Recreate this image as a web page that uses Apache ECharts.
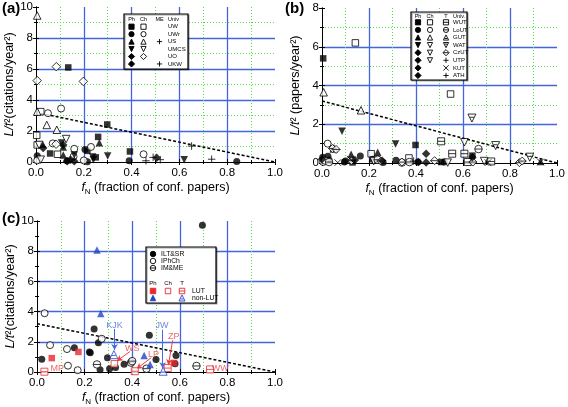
<!DOCTYPE html>
<html><head><meta charset="utf-8">
<script src="https://cdn.jsdelivr.net/npm/echarts@6/dist/echarts.min.js"></script>
<style>html,body{margin:0;padding:0;background:#fff}#c{width:568px;height:407px}</style>
</head><body><div id="c"></div>
<script>
// ---------- data : panel (a) ----------
const xTicks = [0, 0.2, 0.4, 0.6, 0.8, 1.0];
const trendLine = [[0, 3.2], [1.0, 0]];
const aFilledSquare = [[0.135,6.1],[0.298,2.42],[0.26,1.62],[0.059,0.55],[0.215,0.72],[0.25,0.3],[0.393,0.68]];
const aOpenSquare = [[0.02,3.25],[0.003,1.72],[0.09,0.5],[0.005,1.1]];
const aFilledCircle = [[0.005,0.4],[0.13,0.08],[0.215,0.02],[0.39,0.08],[0.84,0.03],[0.205,0.8]];
const aOpenCircle = [[0.105,3.45],[0.05,3.15],[0.16,0.85],[0.23,0.97],[0.45,0.5],[0.005,0.1],[0.2,0.1],[0.157,0.35],[0.07,1.2]];
const aFilledTri = [[0.265,1.25],[0.114,0.97],[0.028,1.15],[0.114,0.45]];
const aOpenTri = [[0.005,9.45],[0.005,3.25],[0.045,2.39],[0.087,2.08]];
const aFilledDown = [[0.107,1.22],[0.16,0.45],[0.24,0.15],[0.30,0.39],[0.237,0.33],[0.62,0.15]];
const aOpenDown = [[0.126,1.48],[0.013,1.1],[0.02,0.15]];
const aFilledDiamond = [[0.13,0.05],[0.16,0.05],[0.505,0.27],[0.114,1.1],[0.03,0.9],[0.145,0.15]];
const aOpenDiamond = [[0.085,6.15],[0.005,5.25],[0.198,5.2],[0.084,1.15]];
const aPlus = [[0.46,0.08],[0.49,0.3],[0.52,0.15],[0.651,1.03],[0.735,0.18]];
// ---------- data : panel (b) ----------
const bFilledSquare = [[0.005,5.4],[0.398,0.93],[0.64,0.38],[0.13,0.03],[0.507,0.05]];
const bOpenSquare = [[0.142,6.2],[0.547,3.56],[0.209,0.48],[0.37,0.26]];
const bFilledCircle = [[0.003,0.3],[0.025,0.35],[0.163,0.36],[0.03,0.15],[0.095,0.05],[0.215,0.2],[0.26,0.03],[0.315,0.14],[0.408,0.05],[0.52,0.05],[0.1,0.1]];
const bOpenCircle = [[0.024,1.0],[0.005,0.05],[0.012,0.12]];
const bFilledTri = [[0.124,0.45],[0.237,0.55],[0.93,0.08]];
const bOpenTri = [[0.007,3.65],[0.166,2.72],[0.05,0.75]];
const bFilledDown = [[0.085,1.64],[0.313,0.98]];
const bOpenDown = [[0.606,1.07],[0.69,0.1],[0.535,0.02],[0.22,0.1]];
const bSquareLine = [[0.507,1.12],[0.554,0.48],[0.606,0.48],[0.72,0.08],[0.62,0.05]];
const bCircleLine = [[0.666,0.72],[0.237,0.17],[0.372,0.05],[0.34,0.02],[0.03,0.05]];
const bDownLine = [[0.638,2.32],[0.739,0.9],[0.884,0.3]];
const bDiamondLine = [[0.045,0.75],[0.06,0.7],[0.479,0.12],[0.642,0.05],[0.84,0.02],[0.852,0.1],[0.125,0.12],[0.25,0.1],[0.34,0.05]];
const bFilledDiamond = [[0.443,0.48],[0.64,0.3],[0.41,0.05],[0.443,0.03],[0.256,0.12],[0.14,0.15],[0.0,0.2]];
const bCross = [[0.067,0.02],[0.706,0.02],[0.93,0.05],[0.12,0.2]];
const bPlus = [[0.39,0.1]];
// ---------- data : panel (c) ----------
const cFilledCircle = [[0.695,9.72],[0.24,2.84],[0.472,2.43],[0.258,1.93],[0.157,1.6],[0.224,1.27],[0.22,1.32],[0.02,0.85],[0.296,0.95],[0.366,0.52],[0.305,0.22],[0.265,0.15],[0.5,0.82],[0.584,1.1],[0.58,0.55],[0.33,0.3]];
const cOpenCircle = [[0.032,3.89],[0.055,1.78],[0.126,1.52],[0.13,0.42],[0.171,0.12],[0.272,2.2]];
const cCircleLine = [[0.252,0.5],[0.395,0.62],[0.40,0.72],[0.46,0.22],[0.67,0.4]];
const cRedFilledSquare = [[0.062,0.92],[0.174,1.33],[0.576,0.6]];
const cRedOpenSquare = [[0.325,0.55]];
const cRedSquareLine = [[0.031,0.02],[0.411,0.05],[0.549,0.26],[0.727,0.17]];
const cBlueFilledTri = [[0.252,8.08],[0.268,3.87],[0.45,1.1],[0.475,0.5]];
const cBlueTriLine = [[0.323,1.15],[0.53,0.05]];
const cBlueLabels = [[0.326,3.1,'KJK'],[0.525,3.05,'JW']];
const cRedLabels = [[0.575,2.35,'ZP'],[0.40,1.55,'WS'],[0.49,1.15,'LP'],[0.085,0.25,'MP'],[0.77,0.22,'WW']];
const cBlueArrows = [[[0.326,2.85],[0.326,1.45]],[[0.528,2.8],[0.528,0.25]]];
const cRedArrows = [[[0.57,2.1],[0.552,0.45]],[[0.39,1.35],[0.335,0.72]],[[0.48,0.95],[0.418,0.2]]];

// ---------- styling ----------
const FONT = 'Liberation Sans, Arial, sans-serif';
const BLUE_GRID = '#4466dd', GREEN = '#55dd44';
const RED = '#e8282c', BLUEM = '#2244cc', BLUE_T = '#4a6ae0', RED_T = '#ec4040';
const P = {
  sq: 'rect', circ: 'circle', tri: 'triangle', down: 'triangle', dia: 'diamond',
  sqLine: 'path://M0,0H10V10H0Z M0,5H10',
  circLine: 'path://M0,5A5,5 0 1 1 10,5A5,5 0 1 1 0,5Z M0,5H10',
  triLine: 'path://M5,0L10,10H0Z M2.5,6H7.5',
  downLine: 'path://M0,0H10L5,10Z M2.5,4H7.5',
  diaLine: 'path://M5,0L10,5L5,10L0,5Z M0,5H10',
  plus: 'path://M5,0V10M0,5H10',
  cross: 'path://M0,0L10,10M10,0L0,10'
};
const SZ = {sq:6.5, circ:7, tri:7.5, down:7.5, dia:[8.5,8.5], sqLine:7, circLine:7.5, triLine:8, downLine:8, diaLine:8, plus:7.5, cross:6.5};
function sc(name, data, g, kind, filled, color) {
  color = color || '#000';
  return {
    type: 'scatter', name, data, xAxisIndex: g*2, yAxisIndex: g*2, z: 5,
    symbol: P[kind], symbolSize: SZ[kind], symbolRotate: (kind==='down') ? 180 : 0,
    itemStyle: filled ? {color: color} : {color: (kind==='plus'||kind==='cross') ? 'rgba(0,0,0,0)' : '#fff', borderColor: color, borderWidth: 1},
    silent: true
  };
}
function trend(g) {
  return {type:'line', data: trendLine, xAxisIndex:g*2, yAxisIndex:g*2, symbol:'none', z:3,
    lineStyle:{color:'#000', width:1.5, type:[3,2]}, silent:true};
}
function xAxes(g) {
  return [{
    gridIndex:g, type:'value', min:0, max:1, interval:0.2, position:'bottom',
    axisLabel:{formatter:v=>v.toFixed(1), fontSize:11.5, color:'#000', margin:5, fontFamily:FONT},
    axisTick:{inside:true, length:3, lineStyle:{color:'#000'}},
    minorTick:{show:true, splitNumber:2, length:2, lineStyle:{color:'#000'}},
    splitLine:{show:true, showMinLine:false, showMaxLine:false, lineStyle:{color:BLUE_GRID, width:1.3}},
    minorSplitLine:{show:true, lineStyle:{color:GREEN, width:1, type:[1,2]}},
    axisLine:{lineStyle:{color:'#000', width:1}},
    name:'{i|f}{s|N}{n| (fraction of conf. papers)}', nameLocation:'middle', nameGap:17,
    nameTextStyle:{color:'#000', fontFamily:FONT, rich:{
      i:{fontStyle:'italic', fontSize:12.5, fontFamily:FONT},
      s:{fontSize:8, fontFamily:FONT, padding:[9,0,0,0]},
      n:{fontSize:12.5, fontFamily:FONT}}}
  },{
    gridIndex:g, type:'value', min:0, max:1, interval:0.2, position:'top',
    axisLabel:{show:false}, axisTick:{inside:true, length:3, lineStyle:{color:'#000'}},
    minorTick:{show:true, splitNumber:2, length:2, lineStyle:{color:'#000'}},
    splitLine:{show:false}, axisLine:{lineStyle:{color:'#000', width:1}}
  }];
}
function yAxes(g, max, withMinor, nameStr, gap) {
  return [{
    gridIndex:g, type:'value', min:0, max:max, interval:2, position:'left',
    axisLabel:{fontSize:11.5, color:'#000', margin:3, fontFamily:FONT},
    axisTick:{inside:true, length:3, lineStyle:{color:'#000'}},
    minorTick:{show:true, splitNumber:2, length:2, lineStyle:{color:'#000'}},
    splitLine:{show:true, showMinLine:false, showMaxLine:false, lineStyle:{color:BLUE_GRID, width:1.3}},
    minorSplitLine:{show:withMinor, lineStyle:{color:GREEN, width:1, type:[1,2]}},
    axisLine:{lineStyle:{color:'#000', width:1}},
    name:nameStr, nameLocation:'middle', nameGap:gap, nameRotate:90,
    nameTextStyle:{color:'#000', fontFamily:FONT, rich:{
      i:{fontStyle:'italic', fontSize:12.5, fontFamily:FONT},
      n:{fontSize:12.5, fontFamily:FONT}}}
  },{
    gridIndex:g, type:'value', min:0, max:max, interval:2, position:'right',
    axisLabel:{show:false}, axisTick:{inside:true, length:3, lineStyle:{color:'#000'}},
    minorTick:{show:true, splitNumber:2, length:2, lineStyle:{color:'#000'}},
    splitLine:{show:false}, axisLine:{lineStyle:{color:'#000', width:1}}
  }];
}

// ---------- legend graphics ----------
function gsym(kind, x, y, s, color, filled) {
  const fill = filled ? color : '#fff';
  const st = {fill, stroke:color, lineWidth:0.9};
  const h = s/2, out = [];
  const ln = (x1,y1,x2,y2)=>({type:'line', shape:{x1,y1,x2,y2}, style:{stroke:color, lineWidth:0.9}, z:101});
  if (kind==='sq'||kind==='sqLine') out.push({type:'rect', shape:{x:x-h,y:y-h,width:s,height:s}, style:st, z:101});
  if (kind==='circ'||kind==='circLine') out.push({type:'circle', shape:{cx:x,cy:y,r:h}, style:st, z:101});
  if (kind==='tri'||kind==='triLine') out.push({type:'polygon', shape:{points:[[x,y-h],[x+h,y+h],[x-h,y+h]]}, style:st, z:101});
  if (kind==='down'||kind==='downLine') out.push({type:'polygon', shape:{points:[[x-h,y-h],[x+h,y-h],[x,y+h]]}, style:st, z:101});
  if (kind==='dia'||kind==='diaLine') out.push({type:'polygon', shape:{points:[[x,y-h-0.5],[x+h+0.5,y],[x,y+h+0.5],[x-h-0.5,y]]}, style:st, z:101});
  if (kind==='sqLine'||kind==='circLine'||kind==='diaLine') out.push(ln(x-h,y,x+h,y));
  if (kind==='triLine') out.push(ln(x-h/2,y+1,x+h/2,y+1));
  if (kind==='downLine') out.push(ln(x-h/2,y-1,x+h/2,y-1));
  if (kind==='plus') { out.push(ln(x-h,y,x+h,y)); out.push(ln(x,y-h,x,y+h)); }
  if (kind==='cross') { out.push(ln(x-h,y-h,x+h,y+h)); out.push(ln(x+h,y-h,x-h,y+h)); }
  return out;
}
function gtext(t, x, y, size, align, color) {
  return {type:'text', x, y, z:102, style:{text:t, fontSize:size, fontFamily:FONT, fill:color||'#000', align:align||'left', verticalAlign:'middle'}};
}
function gbox(x,y,w,h) {
  return {type:'rect', shape:{x,y,width:w,height:h}, style:{fill:'#fff', stroke:'#000', lineWidth:1.2, shadowColor:'rgba(0,0,0,0.35)', shadowOffsetX:1, shadowOffsetY:1}, z:100};
}
const G = [];
G.push({type:'text', left:2, top:1, z:102, style:{text:'(a)', fontSize:15, fontWeight:'bold', fontFamily:FONT, fill:'#000'}});
G.push({type:'text', left:285, top:1, z:102, style:{text:'(b)', fontSize:15, fontWeight:'bold', fontFamily:FONT, fill:'#000'}});
G.push({type:'text', left:2, top:211, z:102, style:{text:'(c)', fontSize:15, fontWeight:'bold', fontFamily:FONT, fill:'#000'}});
// legend (a)
G.push(gbox(124,14,64,55));
[['Ph',131.5],['Ch',143.5],['ME',159.5]].forEach(h=>G.push(gtext(h[0],h[1],19.5,5.5,'center')));
G.push(gtext('Univ',168,19.5,5.5,'left'));
const legA = [['sq','sq','','UW'],['circ','circ','','UWr'],['tri','tri','plus','US'],['down','down','','UMCS'],['dia','dia','','UO'],['dia','','plus','UKW']];
legA.forEach((r,i)=>{ const y=26.7+i*7.45;
  if(r[0]) G.push(...gsym(r[0],131.5,y,5.2,'#000',true));
  if(r[1]) G.push(...gsym(r[1],143.5,y,5.2,'#000',false));
  if(r[2]) G.push(...gsym(r[2],159.5,y,5.2,'#000',false));
  G.push(gtext(r[3],168,y,6,'left'));
});
// legend (b)
G.push(gbox(411,12,56,68));
[['Ph',418],['Ch',430],['T',446]].forEach(h=>G.push(gtext(h[0],h[1],16,5.5,'center')));
G.push(gtext('Univ.',453,16,5.5,'left'));
const legB = [['sq','sq','sqLine','WUT'],['circ','circ','circLine','LoUT'],['tri','tri','triLine','GUT'],['down','down','downLine','WAT'],['dia','down','diaLine','CzUT'],['dia','down','plus','UTP'],['dia','','cross','KUT'],['dia','','plus','ATH']];
legB.forEach((r,i)=>{ const y=22.3+i*7.6;
  if(r[0]) G.push(...gsym(r[0],418,y,5.2,'#000',true));
  if(r[1]) G.push(...gsym(r[1],430,y,5.2,'#000',false));
  if(r[2]) G.push(...gsym(r[2],446,y,5.2,'#000',false));
  G.push(gtext(r[3],453,y,6,'left'));
});
// legend (c)
G.push(gbox(146,247,70,56));
G.push(...gsym('circ',153,254,5.5,'#000',true)); G.push(gtext('ILT&SR',161,254,6.8));
G.push(...gsym('circ',153,261,5.5,'#000',false)); G.push(gtext('IPhCh',161,261,6.8));
G.push(...gsym('circLine',153,268,5.5,'#000',false)); G.push(gtext('IM&ME',161,268,6.8));
[['Ph',153],['Ch',168],['T',182]].forEach(h=>G.push(gtext(h[0],h[1],283,6,'center')));
G.push(...gsym('sq',153,291,5.5,RED,true)); G.push(...gsym('sq',168,291,5.5,RED,false)); G.push(...gsym('sqLine',182,291,5.5,RED,false));
G.push(gtext('LUT',192,291,6.8));
G.push(...gsym('tri',153,298,5.5,BLUEM,true)); G.push(...gsym('triLine',182,298,6,BLUEM,false));
G.push(gtext('non-LUT',192,298,6.8));

// ---------- label / arrow series for (c) ----------
function labelSeries(arr, color) {
  return {type:'scatter', data: arr.map(d=>({value:[d[0],d[1]], label:{formatter:d[2]}})), xAxisIndex:4, yAxisIndex:4,
    symbol:'circle', symbolSize:1, itemStyle:{color:'rgba(0,0,0,0)'}, z:6, silent:true,
    label:{show:true, position:'inside', color, fontSize:9, fontFamily:FONT}};
}
function arrowSeries(arr, color) {
  return {type:'line', data:[], xAxisIndex:4, yAxisIndex:4, silent:true,
    markLine:{silent:true, symbol:['none','arrow'], symbolSize:[5,6], label:{show:false},
      lineStyle:{color, width:1, type:'solid'},
      data: arr.map(a=>[{coord:a[0]},{coord:a[1]}])}};
}

const series = [
  trend(0), trend(1), trend(2),
  sc('UW Ph', aFilledSquare, 0, 'sq', true), sc('UW Ch', aOpenSquare, 0, 'sq', false),
  sc('UWr Ph', aFilledCircle, 0, 'circ', true), sc('UWr Ch', aOpenCircle, 0, 'circ', false),
  sc('US Ph', aFilledTri, 0, 'tri', true), sc('US Ch', aOpenTri, 0, 'tri', false),
  sc('UMCS Ph', aFilledDown, 0, 'down', true), sc('UMCS Ch', aOpenDown, 0, 'down', false),
  sc('UO/UKW Ph', aFilledDiamond, 0, 'dia', true), sc('UO Ch', aOpenDiamond, 0, 'dia', false),
  sc('US/UKW ME', aPlus, 0, 'plus', false),
  sc('WUT Ph', bFilledSquare, 1, 'sq', true), sc('WUT Ch', bOpenSquare, 1, 'sq', false),
  sc('LoUT Ph', bFilledCircle, 1, 'circ', true), sc('LoUT Ch', bOpenCircle, 1, 'circ', false),
  sc('GUT Ph', bFilledTri, 1, 'tri', true), sc('GUT Ch', bOpenTri, 1, 'tri', false),
  sc('WAT Ph', bFilledDown, 1, 'down', true), sc('Ch', bOpenDown, 1, 'down', false),
  sc('WUT T', bSquareLine, 1, 'sqLine', false), sc('LoUT T', bCircleLine, 1, 'circLine', false),
  sc('WAT T', bDownLine, 1, 'downLine', false), sc('CzUT T', bDiamondLine, 1, 'diaLine', false),
  sc('Ph other', bFilledDiamond, 1, 'dia', true), sc('KUT T', bCross, 1, 'cross', false),
  sc('UTP/ATH T', bPlus, 1, 'plus', false),
  sc('ILT&SR', cFilledCircle, 2, 'circ', true), sc('IPhCh', cOpenCircle, 2, 'circ', false),
  sc('IM&ME', cCircleLine, 2, 'circLine', false),
  sc('LUT Ph', cRedFilledSquare, 2, 'sq', true, RED), sc('LUT Ch', cRedOpenSquare, 2, 'sq', false, RED),
  sc('LUT T', cRedSquareLine, 2, 'sqLine', false, RED),
  sc('non-LUT Ph', cBlueFilledTri, 2, 'tri', true, BLUEM), sc('non-LUT T', cBlueTriLine, 2, 'triLine', false, BLUEM),
  labelSeries(cBlueLabels, BLUE_T), labelSeries(cRedLabels, RED_T),
  arrowSeries(cBlueArrows, BLUE_T), arrowSeries(cRedArrows, RED_T)
];

const chart = echarts.init(document.getElementById('c'), null, {renderer:'canvas'});
chart.setOption({
  animation:false, backgroundColor:'#fff',
  textStyle:{fontFamily:FONT},
  grid:[
    {left:36, top:7, width:239, height:155},
    {left:322, top:8, width:236, height:155},
    {left:37, top:221, width:238, height:152}
  ],
  xAxis:[...xAxes(0), ...xAxes(1), ...xAxes(2)],
  yAxis:[
    ...yAxes(0, 10, true, '{i|L/t}{n|²(citations/year²)}', 17),
    ...yAxes(1, 8, true, '{i|L/t}{n|² (papers/year²)}', 20),
    ...yAxes(2, 10, false, '{i|L/t}{n|²(citations/year²)}', 17)
  ],
  series,
  graphic:{elements:G}
});
</script></body></html>
